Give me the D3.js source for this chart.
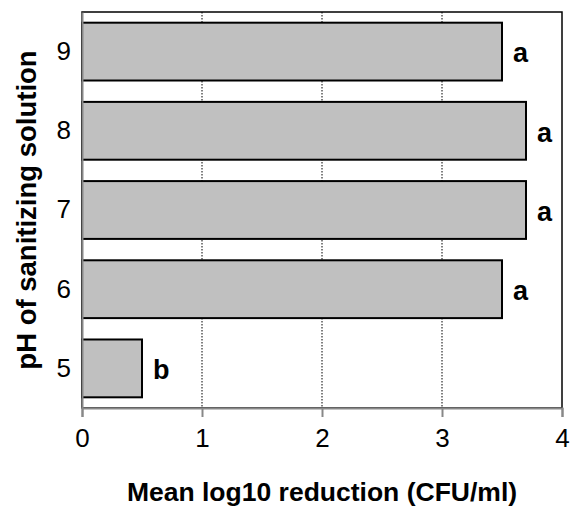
<!DOCTYPE html>
<html>
<head>
<meta charset="utf-8">
<script src="https://cdn.jsdelivr.net/npm/d3@7"></script>
<style>
  body { margin: 0; background: #fff; }
  text { font-family: "Liberation Sans", Arial, sans-serif; }
</style>
</head>
<body>
<svg width="570" height="508"></svg>
<script>
const phLevels = ["9", "8", "7", "6", "5"];
const reductions = [3.5, 3.7, 3.7, 3.5, 0.5];
const letters = ["a", "a", "a", "a", "b"];
const xTicks = [0, 1, 2, 3, 4];

const margin = { top: 12, right: 8, bottom: 100, left: 82 };
const width = 570 - margin.left - margin.right;
const height = 508 - margin.top - margin.bottom;

const svg = d3.select('svg');
const g = svg.append('g')
    .attr('transform', `translate(${margin.left}, ${margin.top})`);

const x = d3.scaleLinear().domain([0, 4]).range([0, width]);
const y = d3.scaleBand().domain(phLevels).range([0, height]).paddingInner(0.27).paddingOuter(0.135);

// plot border
g.append('rect')
    .attr('width', width).attr('height', height)
    .attr('fill', 'none').attr('stroke', '#000').attr('stroke-width', 1.5);

// gridlines
g.selectAll('.grid')
    .data(xTicks.slice(1, -1))
    .enter().append('line')
    .attr('x1', d => x(d)).attr('x2', d => x(d))
    .attr('y1', 0).attr('y2', height)
    .attr('stroke', '#000').attr('stroke-width', 1)
    .attr('stroke-dasharray', '1.5,1.5');

const rows = phLevels.map((p, i) => ({ ph: p, value: reductions[i], letter: letters[i] }));

g.selectAll('.bar')
    .data(rows)
    .enter().append('rect')
    .attr('x', x(0))
    .attr('y', d => y(d.ph))
    .attr('width', d => x(d.value) - x(0))
    .attr('height', y.bandwidth())
    .attr('fill', '#c0c0c0')
    .attr('stroke', '#000')
    .attr('stroke-width', 2);

g.selectAll('.letter')
    .data(rows)
    .enter().append('text')
    .attr('x', d => x(d.value) + 11)
    .attr('y', d => y(d.ph) + y.bandwidth() / 2)
    .attr('dy', '0.4em')
    .attr('font-size', 27)
    .attr('font-weight', 'bold')
    .text(d => d.letter);

// x axis
const xAxis = g.append('g')
    .attr('transform', `translate(0, ${height})`)
    .call(d3.axisBottom(x).tickValues(xTicks).tickSize(9).tickPadding(12).tickFormat(d3.format('d')));
xAxis.select('.domain').attr('stroke', '#888').attr('stroke-width', 2);
xAxis.selectAll('.tick line').attr('stroke', '#888').attr('stroke-width', 2);
xAxis.selectAll('.tick text').attr('font-size', 26).attr('fill', '#000')
    .style('font-family', '"Liberation Sans", Arial, sans-serif');

// y axis
const yAxis = g.append('g')
    .call(d3.axisLeft(y).tickSize(0).tickPadding(11));
yAxis.select('.domain').attr('stroke', '#888').attr('stroke-width', 2);
yAxis.selectAll('.tick text').attr('font-size', 26).attr('fill', '#000')
    .style('font-family', '"Liberation Sans", Arial, sans-serif');

svg.append('text')
    .attr('x', margin.left + width / 2)
    .attr('y', 501)
    .attr('text-anchor', 'middle')
    .attr('font-size', 26.5)
    .attr('font-weight', 'bold')
    .text('Mean log10 reduction (CFU/ml)');

svg.append('text')
    .attr('transform', `translate(36, ${margin.top + height / 2}) rotate(-90)`)
    .attr('text-anchor', 'middle')
    .attr('font-size', 27.5)
    .attr('font-weight', 'bold')
    .text('pH of sanitizing solution');
</script>
</body>
</html>
